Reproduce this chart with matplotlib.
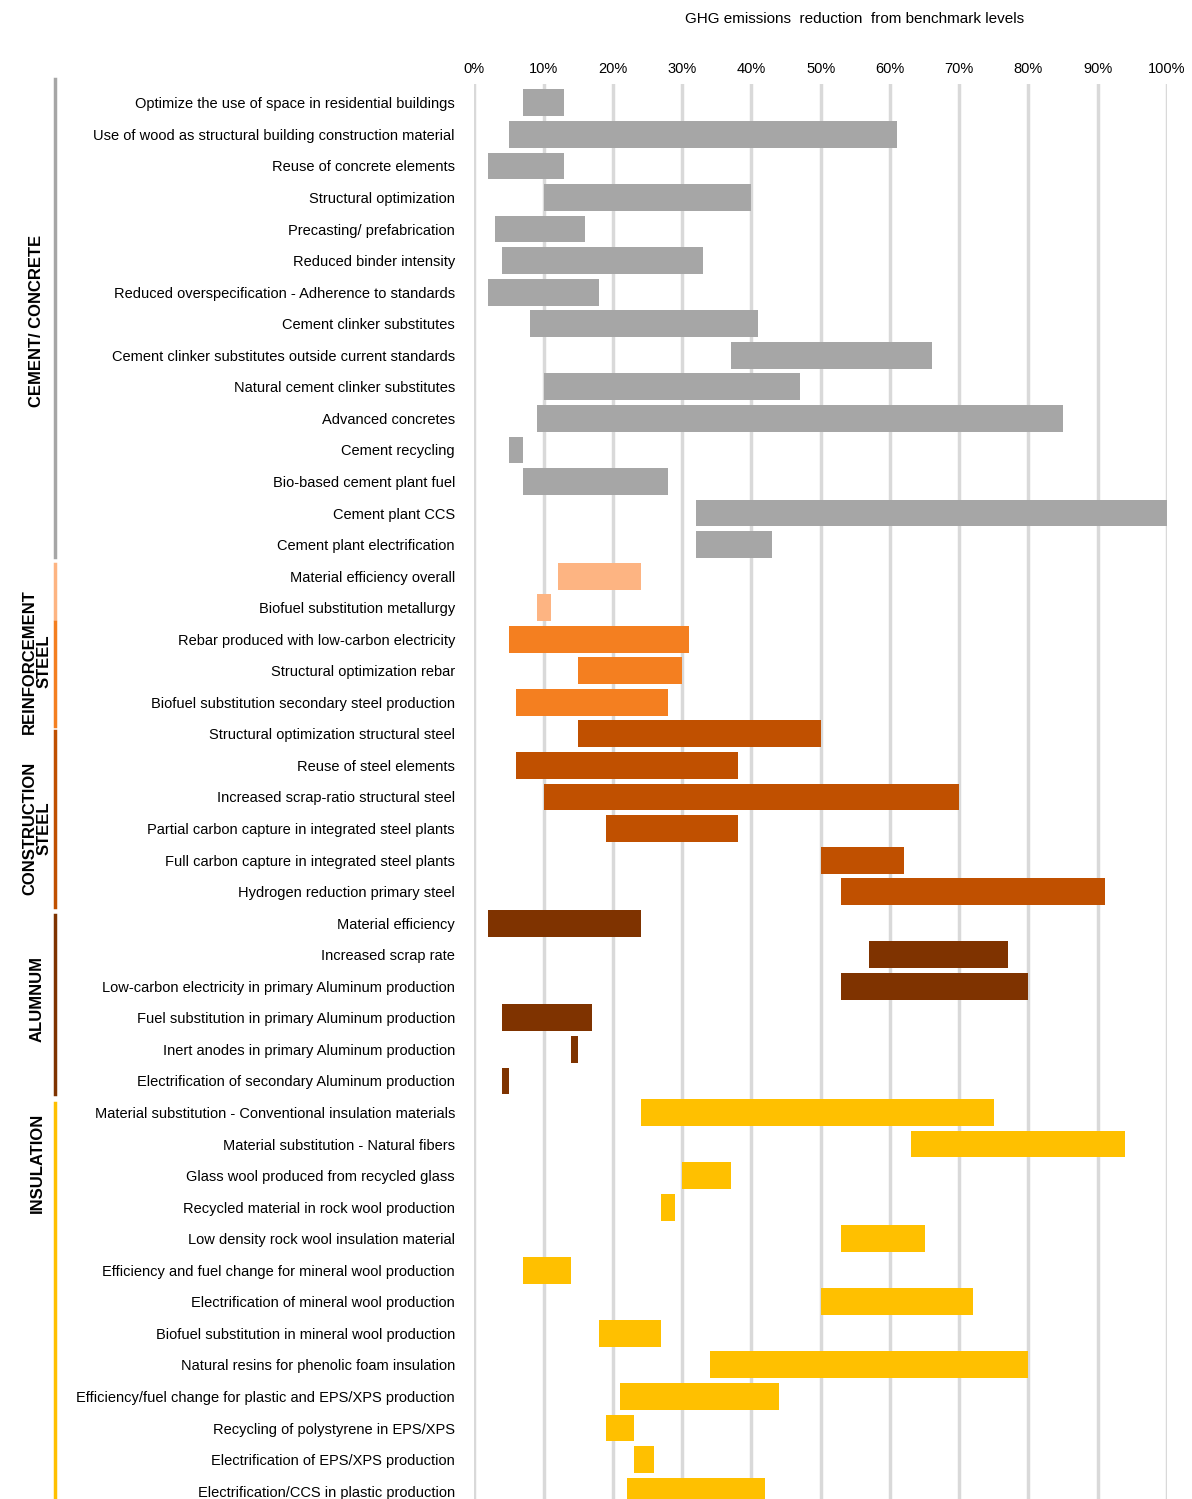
import matplotlib.pyplot as plt
import matplotlib.transforms as mtransforms
from matplotlib.lines import Line2D

plt.rcParams['font.family'] = ['Liberation Sans', 'DejaVu Sans']
label_size = 10.5

labels = [
    "Optimize the use of space in residential buildings",
    "Use of wood as structural building construction material",
    "Reuse of concrete elements",
    "Structural optimization",
    "Precasting/ prefabrication",
    "Reduced binder intensity",
    "Reduced overspecification - Adherence to standards",
    "Cement clinker substitutes",
    "Cement clinker substitutes outside current standards",
    "Natural cement clinker substitutes",
    "Advanced concretes",
    "Cement recycling",
    "Bio-based cement plant fuel",
    "Cement plant CCS",
    "Cement plant electrification",
    "Material efficiency overall",
    "Biofuel substitution metallurgy",
    "Rebar produced with low-carbon electricity",
    "Structural optimization rebar",
    "Biofuel substitution secondary steel production",
    "Structural optimization structural steel",
    "Reuse of steel elements",
    "Increased scrap-ratio structural steel",
    "Partial carbon capture in integrated steel plants",
    "Full carbon capture in integrated steel plants",
    "Hydrogen reduction primary steel",
    "Material efficiency",
    "Increased scrap rate",
    "Low-carbon electricity in primary Aluminum production",
    "Fuel substitution in primary Aluminum production",
    "Inert anodes in primary Aluminum production",
    "Electrification of secondary Aluminum production",
    "Material substitution - Conventional insulation materials",
    "Material substitution - Natural fibers",
    "Glass wool produced from recycled glass",
    "Recycled material in rock wool production",
    "Low density rock wool insulation material",
    "Efficiency and fuel change for mineral wool production",
    "Electrification of mineral wool production",
    "Biofuel substitution in mineral wool production",
    "Natural resins for phenolic foam insulation",
    "Efficiency/fuel change for plastic and EPS/XPS production",
    "Recycling of polystyrene in EPS/XPS",
    "Electrification of EPS/XPS production",
    "Electrification/CCS in plastic production",
]
low = [7, 5, 2, 10, 3, 4, 2, 8, 37, 10, 9, 5, 7, 32, 32,
       12, 9,
       5, 15, 6,
       15, 6, 10, 19, 50, 53,
       2, 57, 53, 4, 14, 4,
       24, 63, 30, 27, 53, 7, 50, 18, 34, 21, 19, 23, 22]
high = [13, 61, 13, 40, 16, 33, 18, 41, 66, 47, 85, 7, 28, 100, 43,
        24, 11,
        31, 30, 28,
        50, 38, 70, 38, 62, 91,
        24, 77, 80, 17, 15, 5,
        75, 94, 37, 29, 65, 14, 72, 27, 80, 44, 23, 26, 42]
colors = (["#A6A6A6"] * 15 + ["#FDB482"] * 2 + ["#F47F20"] * 3 +
          ["#C05000"] * 6 + ["#7F3300"] * 6 + ["#FFC000"] * 13)

# group brackets: (label, first row, last row, color)
groups = [
    ("CEMENT/ CONCRETE", -0.75, 14.4, "#A6A6A6"),
    ("REINFORCEMENT\nSTEEL", 14.6, 16.35, "#FDB482"),
    (None, 16.45, 19.75, "#F47F20"),
    ("CONSTRUCTION\nSTEEL", 19.9, 25.5, "#C05000"),
    ("ALUMNUM", 25.75, 31.4, "#7F3300"),
    ("INSULATION", 31.7, 44.5, "#FFC000"),
]
group_label_pos = [6.9, 17.7, None, 23.0, 28.4, 33.6]

fig = plt.figure(figsize=(11.92, 14.99), dpi=100)
ax = fig.add_axes([0.398, 0.0, 0.979 - 0.398, 0.944])

y = range(len(labels))
ax.barh(y, [h - l for l, h in zip(low, high)], left=low, height=0.85,
        color=colors, zorder=3)
ax.set_xlim(0, 100)
ax.set_ylim(44.25, -0.6)
ax.set_yticks(list(y))
ax.set_yticklabels(labels, fontsize=label_size)
ax.set_xticks(range(0, 101, 10))
ax.set_xticklabels([f"{v}%" for v in range(0, 101, 10)], fontsize=label_size)
ax.xaxis.tick_top()
ax.tick_params(length=0, pad=6)
ax.tick_params(axis="y", pad=14)
for s in ax.spines.values():
    s.set_visible(False)
ax.grid(axis="x", color="#D9D9D9", linewidth=2.5, zorder=0)
ax.set_axisbelow(True)

fig.text(0.717, 0.987, "GHG emissions  reduction  from benchmark levels",
         ha="center", va="center", fontsize=label_size + 0.5)

trans = mtransforms.blended_transform_factory(fig.transFigure, ax.transData)
for (name, a, b, c), lp in zip(groups, group_label_pos):
    fig.add_artist(Line2D([0.046, 0.046], [a, b], transform=trans,
                          color=c, linewidth=2.5, clip_on=False))
    if name:
        fig.text(0.031, lp, name, transform=trans, rotation=90,
                 ha="center", va="center", fontsize=12, fontweight="bold",
                 linespacing=1.0)

fig.savefig("out.png", dpi=100)
